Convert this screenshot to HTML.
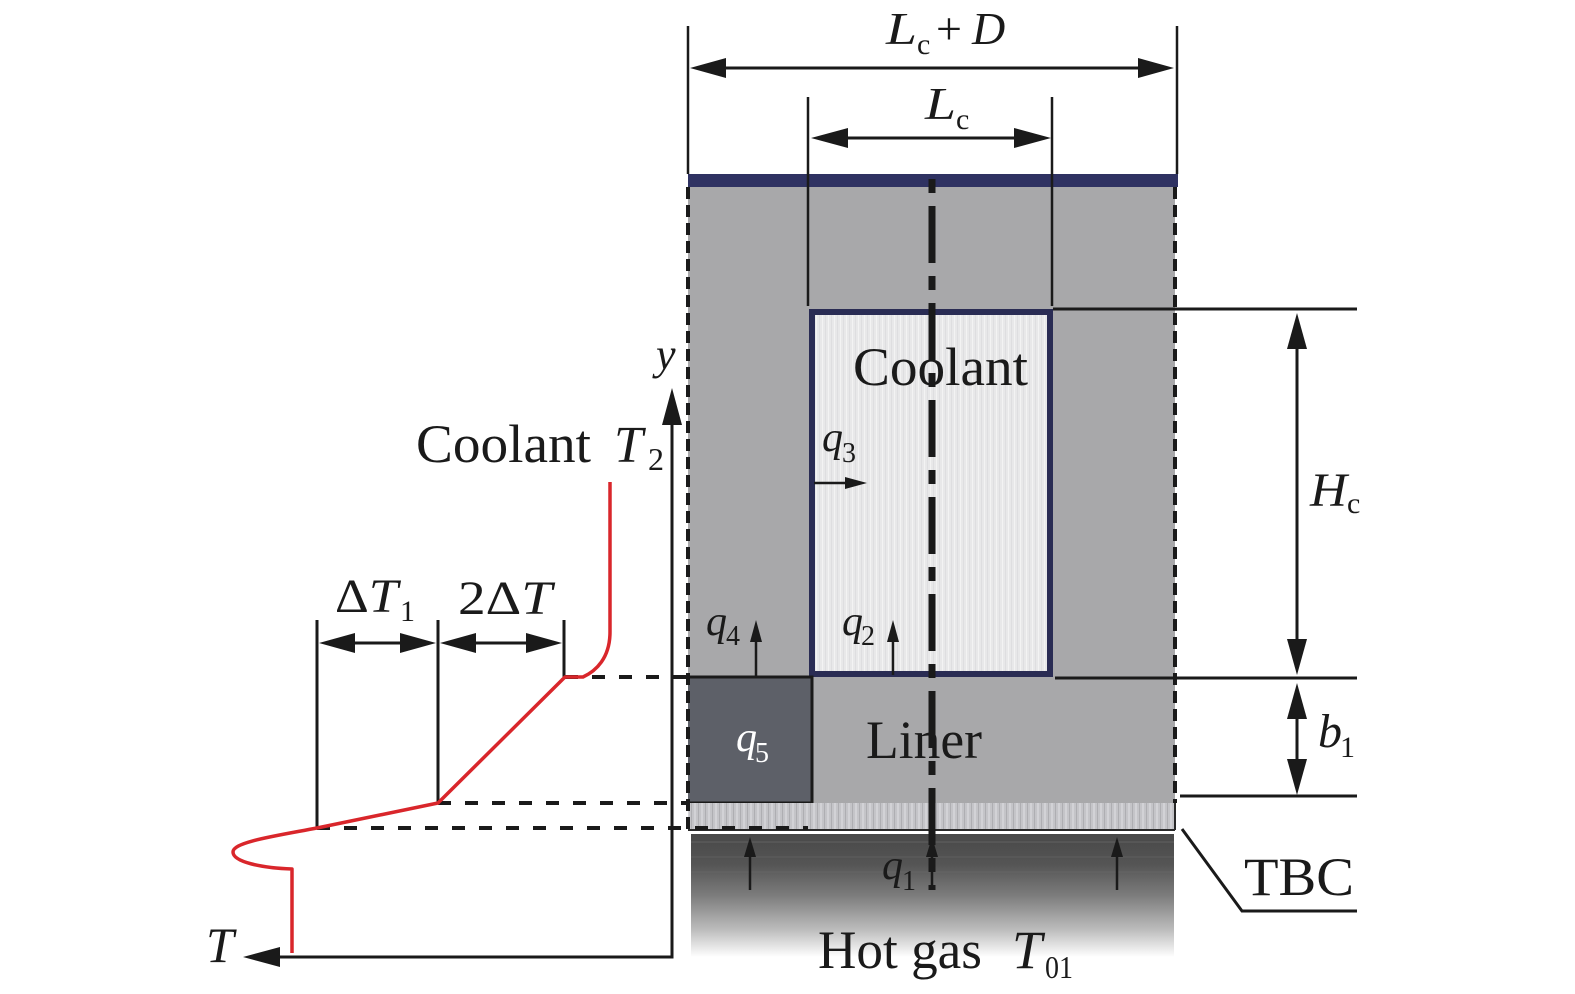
<!DOCTYPE html>
<html><head><meta charset="utf-8"><style>
html,body{margin:0;padding:0;background:#fff;}
svg{display:block;}
text{font-family:"Liberation Serif","DejaVu Serif",serif;fill:#1a1a1a;}
.it{font-style:italic;}
</style></head><body>
<svg width="1575" height="994" viewBox="0 0 1575 994" xmlns="http://www.w3.org/2000/svg">
<defs>
<linearGradient id="hot" x1="0" y1="0" x2="0" y2="1">
<stop offset="0" stop-color="#484848"/>
<stop offset="0.25" stop-color="#555555"/>
<stop offset="0.5" stop-color="#7c7c7c"/>
<stop offset="0.78" stop-color="#bdbdbd"/>
<stop offset="1" stop-color="#ffffff"/>
</linearGradient>
<pattern id="cool" width="6" height="8" patternUnits="userSpaceOnUse">
<rect width="6" height="8" fill="#e8e8e9"/>
<rect x="0" width="1" height="8" fill="#f3f3f3"/>
<rect x="3" width="1" height="8" fill="#dedee0"/>
</pattern>
<pattern id="tbc" width="7" height="27" patternUnits="userSpaceOnUse">
<rect width="7" height="27" fill="#c4c4c8"/>
<rect x="1" width="2" height="27" fill="#d2d2d6"/>
<rect x="5" width="1" height="27" fill="#aeaeb2"/>
</pattern>
</defs>

<rect x="688" y="186" width="487" height="617" fill="#a8a8aa"/>
<rect x="688" y="174" width="490" height="13" fill="#2f3262"/>
<rect x="812" y="312" width="238" height="362" fill="url(#cool)" stroke="#2a2c54" stroke-width="6"/>
<rect x="688" y="677" width="124" height="126" fill="#5d6068"/>
<polyline points="688,677 812,677 812,803 688,803" fill="none" stroke="#1a1a1a" stroke-width="3"/>
<rect x="688" y="803" width="487" height="27" fill="url(#tbc)"/>
<line x1="688" y1="830" x2="1175" y2="830" stroke="#2a2a2a" stroke-width="2"/>
<line x1="1175" y1="803" x2="1175" y2="830" stroke="#2a2a2a" stroke-width="2"/>
<rect x="691" y="834" width="483" height="123" fill="url(#hot)"/>
<line x1="691" y1="842" x2="1174" y2="842" stroke="#626262" stroke-width="1"/>
<line x1="691" y1="857" x2="1174" y2="857" stroke="#5e5e5e" stroke-width="1"/>
<line x1="691" y1="872" x2="1174" y2="872" stroke="#656565" stroke-width="1"/>

<line x1="932" y1="179" x2="932" y2="890" stroke="#1a1a1a" stroke-width="7" stroke-dasharray="14 13 57 13"/>

<line x1="688" y1="187" x2="688" y2="830" stroke="#1a1a1a" stroke-width="4" stroke-dasharray="12 6"/>
<line x1="1175" y1="187" x2="1175" y2="803" stroke="#1a1a1a" stroke-width="4" stroke-dasharray="12 6"/>

<g stroke="#1a1a1a" stroke-width="2.5">
<line x1="688" y1="26" x2="688" y2="174"/>
<line x1="1177" y1="26" x2="1177" y2="174"/>
<line x1="808" y1="97" x2="808" y2="306"/>
<line x1="1052" y1="97" x2="1052" y2="306"/>
</g>
<g stroke="#1a1a1a" stroke-width="3">
<line x1="700" y1="68" x2="1165" y2="68"/>
<line x1="820" y1="138" x2="1042" y2="138"/>
</g>
<g fill="#1a1a1a">
<polygon points="690,68 726,58 726,78"/>
<polygon points="1174,68 1138,58 1138,78"/>
<polygon points="811,138 848,128 848,148"/>
<polygon points="1051,138 1014,128 1014,148"/>
</g>

<g stroke="#1a1a1a" stroke-width="3" fill="none">
<line x1="1053" y1="309" x2="1357" y2="309"/>
<line x1="1055" y1="678" x2="1357" y2="678"/>
<line x1="1180" y1="796" x2="1357" y2="796"/>
<polyline points="1182,829 1242,911 1357,911"/>
<line x1="1297" y1="330" x2="1297" y2="660"/>
<line x1="1297" y1="700" x2="1297" y2="780"/>
</g>
<g fill="#1a1a1a">
<polygon points="1297,313 1287,349 1307,349"/>
<polygon points="1297,675 1287,639 1307,639"/>
<polygon points="1297,683 1287,719 1307,719"/>
<polygon points="1297,795 1287,759 1307,759"/>
</g>

<g stroke="#1a1a1a" stroke-width="4" stroke-dasharray="13 14">
<line x1="565" y1="677" x2="688" y2="677"/>
<line x1="438" y1="803" x2="688" y2="803"/>
<line x1="317" y1="828" x2="808" y2="828"/>
</g>

<g stroke="#1a1a1a" stroke-width="3" fill="none">
<polyline points="672,420 672,957 275,957"/>
</g>
<g fill="#1a1a1a">
<polygon points="672,388 662,425 682,425"/>
<polygon points="243,957 280,947 280,967"/>
</g>

<g stroke="#1a1a1a" stroke-width="3">
<line x1="317" y1="620" x2="317" y2="828"/>
<line x1="438" y1="620" x2="438" y2="803"/>
<line x1="564" y1="620" x2="564" y2="677"/>
<line x1="330" y1="643" x2="425" y2="643"/>
<line x1="452" y1="643" x2="550" y2="643"/>
</g>
<g fill="#1a1a1a">
<polygon points="319,643 355,633 355,653"/>
<polygon points="436,643 400,633 400,653"/>
<polygon points="440,643 476,633 476,653"/>
<polygon points="562,643 526,633 526,653"/>
</g>

<path d="M610 482 L610 632 C610 658 596 671 583 677 L565 677 L438 803 L317 828 C275 836 233 842 233 852 C233 862 262 868 292 869 L292 953" fill="none" stroke="#d9262b" stroke-width="3.5" stroke-linejoin="round"/>

<g stroke="#1a1a1a" stroke-width="2.5">
<line x1="814" y1="483" x2="848" y2="483"/>
<line x1="756" y1="677" x2="756" y2="638"/>
<line x1="893" y1="675" x2="893" y2="638"/>
<line x1="750" y1="890" x2="750" y2="850"/>
<line x1="932" y1="890" x2="932" y2="850"/>
<line x1="1117" y1="890" x2="1117" y2="850"/>
</g>
<g fill="#1a1a1a">
<polygon points="867,483 845,477 845,489"/>
<polygon points="756,620 750,642 762,642"/>
<polygon points="893,620 887,642 899,642"/>
<polygon points="750,837 744,857 756,857"/>
<polygon points="932,837 926,857 938,857"/>
<polygon points="1117,837 1111,857 1123,857"/>
</g>

<text class="it" x="886" y="44" font-size="46" textLength="31" lengthAdjust="spacingAndGlyphs">L</text>
<text x="917" y="54" font-size="30">c</text>
<text x="936" y="44" font-size="46">+</text>
<text class="it" x="972" y="44" font-size="46">D</text>

<text class="it" x="925" y="119" font-size="46" textLength="31" lengthAdjust="spacingAndGlyphs">L</text>
<text x="956" y="129" font-size="30">c</text>

<text x="853" y="385" font-size="54" textLength="175" lengthAdjust="spacingAndGlyphs">Coolant</text>

<text class="it" x="822" y="451" font-size="42">q</text>
<text x="842" y="462" font-size="28">3</text>

<text class="it" x="706" y="635" font-size="42">q</text>
<text x="726" y="645" font-size="28">4</text>

<text class="it" x="842" y="635" font-size="42">q</text>
<text x="861" y="645" font-size="28">2</text>

<text class="it" x="736" y="751" font-size="42" style="fill:#ffffff">q</text>
<text x="755" y="762" font-size="28" style="fill:#ffffff">5</text>

<text x="866" y="758" font-size="54" textLength="116" lengthAdjust="spacingAndGlyphs">Liner</text>

<text class="it" x="882" y="879" font-size="42">q</text>
<text x="902" y="890" font-size="28">1</text>

<text x="818" y="968" font-size="54" textLength="164" lengthAdjust="spacingAndGlyphs">Hot gas</text>
<text class="it" x="1012" y="968" font-size="54">T</text>
<text x="1045" y="978" font-size="32" textLength="28" lengthAdjust="spacingAndGlyphs">01</text>

<text x="1244" y="895" font-size="54" textLength="110" lengthAdjust="spacingAndGlyphs">TBC</text>

<text class="it" x="1310" y="506" font-size="48" textLength="37" lengthAdjust="spacingAndGlyphs">H</text>
<text x="1347" y="513" font-size="30">c</text>

<text class="it" x="1318" y="747" font-size="48">b</text>
<text x="1340" y="757" font-size="30">1</text>

<text class="it" x="656" y="369" font-size="44">y</text>

<text x="416" y="462" font-size="54" textLength="175" lengthAdjust="spacingAndGlyphs">Coolant</text>
<text class="it" x="614" y="462" font-size="52">T</text>
<text x="648" y="470" font-size="32">2</text>

<text x="335" y="612" font-size="48" textLength="63" lengthAdjust="spacingAndGlyphs">Δ<tspan class="it">T</tspan></text>
<text x="400" y="621" font-size="30">1</text>

<text x="458" y="614" font-size="48" textLength="94" lengthAdjust="spacingAndGlyphs">2Δ<tspan class="it">T</tspan></text>

<text class="it" x="206" y="962" font-size="50">T</text>
</svg>
</body></html>
